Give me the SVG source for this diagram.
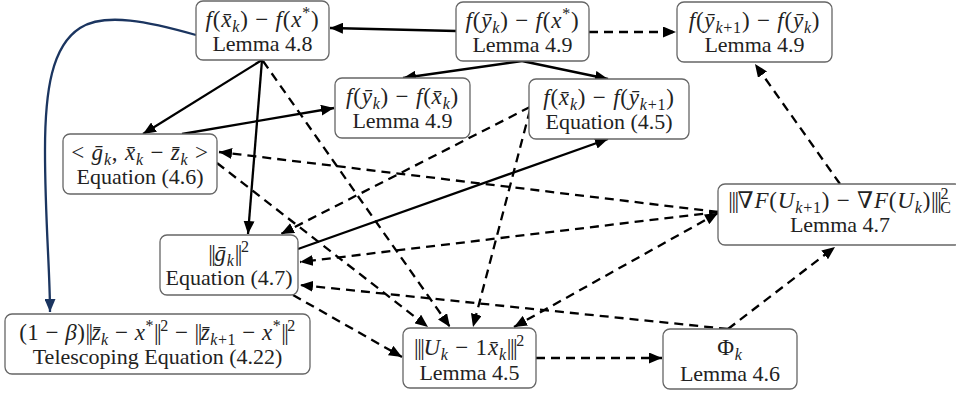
<svg xmlns="http://www.w3.org/2000/svg" width="956" height="394" viewBox="0 0 956 394">
<style>
.box{fill:#fff;stroke:#666;stroke-width:1.3}
.t{font-family:'Liberation Serif','Noto Serif','DejaVu Serif','Times New Roman',serif;font-size:22px;fill:#222;text-anchor:middle}
.m{font-size:23px;letter-spacing:0.8px}
.i{font-style:italic}
.sb{font-size:16px;font-style:italic;baseline-shift:-5px}
.sbu{font-size:16px;baseline-shift:-5px}
.sp{font-size:16px;baseline-shift:9px}
.n{letter-spacing:-1.5px}
.e{fill:none;stroke:#000;stroke-width:2.3}
.d{stroke-dasharray:9 6}
.blue{fill:none;stroke:#1b3560;stroke-width:2.3}
</style>
<defs>
<marker id="ah" markerUnits="userSpaceOnUse" markerWidth="14" markerHeight="11" refX="13" refY="5.5" orient="auto"><path d="M0,0 L13,5.5 L0,11 Z" fill="#000"/></marker>
<marker id="ahs" markerUnits="userSpaceOnUse" markerWidth="14" markerHeight="11" refX="0" refY="5.5" orient="auto"><path d="M13,0 L0,5.5 L13,11 Z" fill="#000"/></marker>
<marker id="ahb" markerUnits="userSpaceOnUse" markerWidth="14" markerHeight="11" refX="13" refY="5.5" orient="auto"><path d="M0,0 L13,5.5 L0,11 Z" fill="#1b3560"/></marker>
</defs>
<rect width="956" height="394" fill="#fff"/>
<g id="connectors">
<path class="blue" marker-end="url(#ahb)" d="M196,35 C150,22 105,12 80,28 C52,46 45,90 45,150 C45,220 50,270 50,312"/>
<path class="e" marker-end="url(#ah)" d="M456,31 L330,28"/>
<path class="e" marker-end="url(#ah)" d="M522,61 L403,78"/>
<path class="e" marker-end="url(#ah)" d="M522,61 L608,79"/>
<path class="e" marker-end="url(#ah)" d="M262,60 L143,134"/>
<path class="e" marker-end="url(#ah)" d="M262,60 L248,234"/>
<path class="e" marker-end="url(#ah)" d="M182,134 L334,108"/>
<path class="e" marker-end="url(#ah)" d="M298,249 L608,139"/>
<path class="e d" marker-end="url(#ah)" d="M589,32 L676,32"/>
<path class="e d" marker-end="url(#ah)" d="M840,184 L755,64"/>
<path class="e d" marker-end="url(#ah)" d="M263,61 L450,327"/>
<path class="e d" marker-end="url(#ah)" d="M217,163 L428,327"/>
<path class="e d" marker-end="url(#ah)" d="M293,295 L402,357"/>
<path class="e d" marker-end="url(#ah)" d="M530,110 L473,327"/>
<path class="e d" marker-end="url(#ah)" d="M530,107 L281,234"/>
<path class="e d" marker-end="url(#ah)" d="M718,212 L219,152"/>
<path class="e d" marker-end="url(#ah)" d="M718,212 L300,262"/>
<path class="e d" marker-start="url(#ahs)" marker-end="url(#ah)" d="M718,213 L514,327"/>
<path class="e d" marker-end="url(#ah)" d="M536,358 L662,358"/>
<path class="e d" marker-end="url(#ah)" d="M728,329 L835,247"/>
<path class="e d" marker-end="url(#ah)" d="M728,329 L300,285"/>
</g>
<g id="nA"><rect class="box" x="196" y="1" width="133" height="59" rx="7"/><text class="t m" x="262.5" y="27"><tspan class="i">f</tspan>(<tspan class="i">x̄</tspan><tspan class="sb">k</tspan>) − <tspan class="i">f</tspan>(<tspan class="i">x</tspan><tspan class="sp">*</tspan>)</text><text class="t" x="262.5" y="51">Lemma 4.8</text></g>
<g id="nB"><rect class="box" x="456" y="2" width="133" height="59" rx="7"/><text class="t m" x="522.5" y="28"><tspan class="i">f</tspan>(<tspan class="i">ȳ</tspan><tspan class="sb">k</tspan>) − <tspan class="i">f</tspan>(<tspan class="i">x</tspan><tspan class="sp">*</tspan>)</text><text class="t" x="522.5" y="52">Lemma 4.9</text></g>
<g id="nC"><rect class="box" x="677" y="2" width="155" height="60" rx="7"/><text class="t m" x="754.5" y="28"><tspan class="i">f</tspan>(<tspan class="i">ȳ</tspan><tspan class="sb">k</tspan><tspan class="sbu">+1</tspan>) − <tspan class="i">f</tspan>(<tspan class="i">ȳ</tspan><tspan class="sb">k</tspan>)</text><text class="t" x="754.5" y="52">Lemma 4.9</text></g>
<g id="nD"><rect class="box" x="335" y="78" width="135" height="60" rx="7"/><text class="t m" x="402.5" y="104"><tspan class="i">f</tspan>(<tspan class="i">ȳ</tspan><tspan class="sb">k</tspan>) − <tspan class="i">f</tspan>(<tspan class="i">x̄</tspan><tspan class="sb">k</tspan>)</text><text class="t" x="402.5" y="128">Lemma 4.9</text></g>
<g id="nE"><rect class="box" x="529" y="79" width="160" height="60" rx="7"/><text class="t m" x="609" y="105"><tspan class="i">f</tspan>(<tspan class="i">x̄</tspan><tspan class="sb">k</tspan>) − <tspan class="i">f</tspan>(<tspan class="i">ȳ</tspan><tspan class="sb">k</tspan><tspan class="sbu">+1</tspan>)</text><text class="t" x="609" y="129">Equation (4.5)</text></g>
<g id="nF"><rect class="box" x="63" y="134" width="154" height="60" rx="7"/><text class="t m" x="140" y="160">&lt; <tspan class="i">ḡ</tspan><tspan class="sb">k</tspan>, <tspan class="i">x̄</tspan><tspan class="sb">k</tspan> − <tspan class="i">z̄</tspan><tspan class="sb">k</tspan> &gt;</text><text class="t" x="140" y="184">Equation (4.6)</text></g>
<g id="nG"><rect class="box" x="718" y="184" width="244" height="61" rx="7"/><text class="t m" x="840" y="208"><tspan class="n">|||</tspan>∇<tspan class="i">F</tspan>(<tspan class="i">U</tspan><tspan class="sb">k</tspan><tspan class="sbu">+1</tspan>) − ∇<tspan class="i">F</tspan>(<tspan class="i">U</tspan><tspan class="sb">k</tspan>)<tspan class="n">|||</tspan><tspan class="sp">2</tspan><tspan class="sbu" dx="-9">C</tspan></text><text class="t" x="840" y="232">Lemma 4.7</text></g>
<g id="nH"><rect class="box" x="160" y="235" width="138" height="60" rx="7"/><text class="t m" x="229" y="261"><tspan class="n">||</tspan><tspan class="i">ḡ</tspan><tspan class="sb">k</tspan><tspan class="n">||</tspan><tspan class="sp">2</tspan></text><text class="t" x="229" y="285">Equation (4.7)</text></g>
<g id="nI"><rect class="box" x="5" y="314" width="305" height="60" rx="7"/><text class="t m" x="157.5" y="340" style="letter-spacing:0.5px">(1 − <tspan class="i">β</tspan>)<tspan class="n">||</tspan><tspan class="i">z̄</tspan><tspan class="sb">k</tspan> − <tspan class="i">x</tspan><tspan class="sp">*</tspan><tspan class="n">||</tspan><tspan class="sp">2</tspan> − <tspan class="n">||</tspan><tspan class="i">z̄</tspan><tspan class="sb">k</tspan><tspan class="sbu">+1</tspan> − <tspan class="i">x</tspan><tspan class="sp">*</tspan><tspan class="n">||</tspan><tspan class="sp">2</tspan></text><text class="t" x="157.5" y="364">Telescoping Equation (4.22)</text></g>
<g id="nJ"><rect class="box" x="403" y="328" width="133" height="60" rx="7"/><text class="t m" x="469.5" y="355"><tspan class="n">|||</tspan><tspan class="i">U</tspan><tspan class="sb">k</tspan> − 1<tspan class="i">x̄</tspan><tspan class="sb">k</tspan><tspan class="n">|||</tspan><tspan class="sp">2</tspan></text><text class="t" x="469.5" y="380">Lemma 4.5</text></g>
<g id="nK"><rect class="box" x="663" y="329" width="134" height="60" rx="7"/><text class="t m" x="730" y="355">Φ<tspan class="sb">k</tspan></text><text class="t" x="730" y="381">Lemma 4.6</text></g>
</svg>
